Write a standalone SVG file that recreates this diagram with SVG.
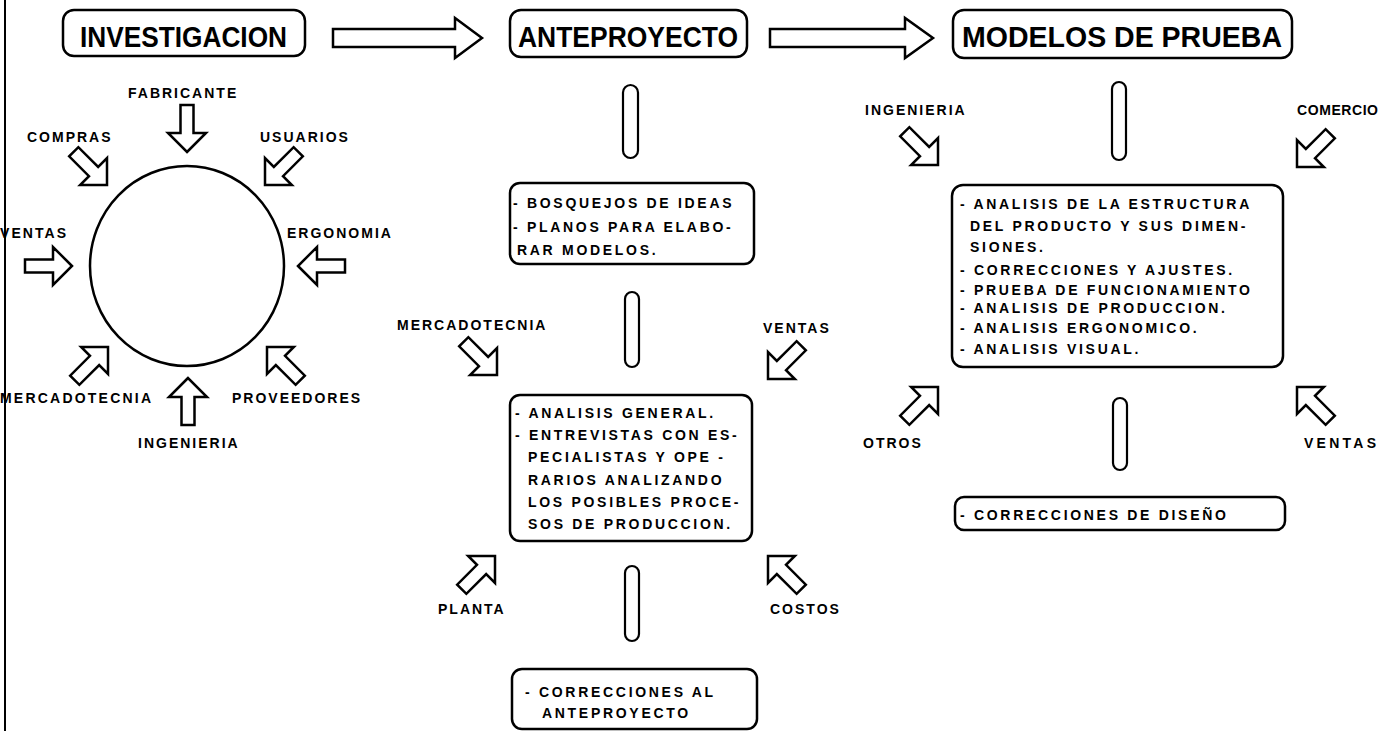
<svg xmlns="http://www.w3.org/2000/svg" xmlns:xlink="http://www.w3.org/1999/xlink" width="1384" height="731" viewBox="0 0 1384 731">
<style>
.box{fill:#fff;stroke:#000;stroke-width:2.5}
.pill{fill:#fff;stroke:#000;stroke-width:2.2}
.big{fill:#fff;stroke:#000;stroke-width:2.5;stroke-linejoin:miter}
.hd{font-family:"Liberation Sans",Arial,sans-serif;font-weight:bold;font-size:29px;fill:#000}
.lb{font-family:"Liberation Sans",Arial,sans-serif;font-weight:bold;font-size:14px;letter-spacing:2px;fill:#000}
.tx{font-family:"Liberation Sans",Arial,sans-serif;font-weight:bold;font-size:14px;letter-spacing:2.7px;fill:#000}
</style>
<defs>
<path id="ha" d="M0,0 L-19,-19 L-19,-6.5 L-47,-6.5 L-47,6.5 L-19,6.5 L-19,19 Z" fill="#fff" stroke="#000" stroke-width="2.5" stroke-linejoin="miter"/>
</defs>
<rect width="1384" height="731" fill="#fff"/>
<line x1="5" y1="0" x2="5" y2="731" stroke="#000" stroke-width="2"/>

<g id="investigacion">
<rect class="box" x="63" y="10" width="242" height="46" rx="11"/>
<text class="hd" x="80" y="47" textLength="207" lengthAdjust="spacingAndGlyphs">INVESTIGACION</text>
</g>
<g id="anteproyecto">
<rect class="box" x="510" y="10" width="237" height="47" rx="11"/>
<text class="hd" x="518" y="47" textLength="220" lengthAdjust="spacingAndGlyphs">ANTEPROYECTO</text>
</g>
<g id="modelos">
<rect class="box" x="953" y="10" width="339" height="48" rx="11"/>
<text class="hd" x="962" y="47" textLength="320" lengthAdjust="spacingAndGlyphs">MODELOS DE PRUEBA</text>
</g>

<g id="circulo">
<ellipse cx="187" cy="266" rx="97" ry="100" fill="none" stroke="#000" stroke-width="2.5"/>
</g>
<g id="labels-investigacion">
<text class="lb" x="128" y="98">FABRICANTE</text>
<text class="lb" x="27" y="142">COMPRAS</text>
<text class="lb" x="260" y="142">USUARIOS</text>
<text class="lb" x="0" y="238" textLength="68" lengthAdjust="spacing">VENTAS</text>
<text class="lb" x="287" y="238">ERGONOMIA</text>
<text class="lb" x="0" y="403" textLength="153" lengthAdjust="spacing">MERCADOTECNIA</text>
<text class="lb" x="232" y="403">PROVEEDORES</text>
<text class="lb" x="138" y="448">INGENIERIA</text>
</g>

<g id="bosquejos">
<rect class="box" x="510" y="183" width="244" height="81" rx="10"/>
<text class="tx" x="513" y="208">- BOSQUEJOS DE IDEAS</text>
<text class="tx" x="513" y="232">- PLANOS PARA ELABO-</text>
<text class="tx" x="517" y="255">RAR MODELOS.</text>
</g>
<g id="analisis-general">
<rect class="box" x="510" y="395" width="242" height="146" rx="10"/>
<text class="tx" x="515" y="418">- ANALISIS GENERAL.</text>
<text class="tx" x="515" y="440">- ENTREVISTAS CON ES-</text>
<text class="tx" x="528" y="462">PECIALISTAS Y OPE -</text>
<text class="tx" x="528" y="485">RARIOS ANALIZANDO</text>
<text class="tx" x="528" y="507">LOS POSIBLES PROCE-</text>
<text class="tx" x="528" y="529">SOS DE PRODUCCION.</text>
</g>
<g id="correcciones-anteproyecto">
<rect class="box" x="512" y="669" width="245" height="60" rx="10"/>
<text class="tx" x="525" y="697">- CORRECCIONES AL</text>
<text class="tx" x="542" y="718">ANTEPROYECTO</text>
</g>
<g id="labels-anteproyecto">
<text class="lb" x="397" y="330">MERCADOTECNIA</text>
<text class="lb" x="763" y="333">VENTAS</text>
<text class="lb" x="438" y="614">PLANTA</text>
<text class="lb" x="770" y="614">COSTOS</text>
</g>

<g id="analisis-estructura">
<rect class="box" x="952" y="185" width="331" height="182" rx="11"/>
<text class="tx" x="960" y="209">- ANALISIS DE LA ESTRUCTURA</text>
<text class="tx" x="970" y="231">DEL PRODUCTO Y SUS DIMEN-</text>
<text class="tx" x="970" y="252">SIONES.</text>
<text class="tx" x="960" y="275">- CORRECCIONES Y AJUSTES.</text>
<text class="tx" x="960" y="295">- PRUEBA DE FUNCIONAMIENTO</text>
<text class="tx" x="960" y="313">- ANALISIS DE PRODUCCION.</text>
<text class="tx" x="960" y="333">- ANALISIS ERGONOMICO.</text>
<text class="tx" x="960" y="354">- ANALISIS VISUAL.</text>
</g>
<g id="correcciones-diseno">
<rect class="box" x="955" y="497" width="330" height="33" rx="9"/>
<text class="tx" x="960" y="520">- CORRECCIONES DE DISEÑO</text>
</g>
<g id="labels-modelos">
<text class="lb" x="865" y="115">INGENIERIA</text>
<text class="lb" x="1297" y="115" textLength="83" lengthAdjust="spacing">COMERCIO</text>
<text class="lb" x="863" y="448">OTROS</text>
<text class="lb" x="1304" y="448" textLength="74" lengthAdjust="spacing">VENTAS</text>
</g>

<g id="connectors">
<path class="big" d="M333,29 H455 V18 L482,38 L455,58 V47 H333 Z"/>
<path class="big" d="M770,29 H905 V18 L933,38 L905,58 V47 H770 Z"/>
<rect class="pill" x="623" y="85" width="15" height="73" rx="7.5"/>
<rect class="pill" x="625" y="292" width="14" height="75" rx="7"/>
<rect class="pill" x="625" y="566" width="14" height="75" rx="7"/>
<rect class="pill" x="1112" y="82" width="14" height="78" rx="7"/>
<rect class="pill" x="1113" y="398" width="14" height="72" rx="7"/>
<use xlink:href="#ha" transform="translate(187,152) rotate(90)"/>
<use xlink:href="#ha" transform="translate(107,185) rotate(45)"/>
<use xlink:href="#ha" transform="translate(265,185) rotate(135)"/>
<use xlink:href="#ha" transform="translate(72,266) rotate(0)"/>
<use xlink:href="#ha" transform="translate(298,266) rotate(180)"/>
<use xlink:href="#ha" transform="translate(108,347) rotate(-45)"/>
<use xlink:href="#ha" transform="translate(188,378) rotate(-90)"/>
<use xlink:href="#ha" transform="translate(267,347) rotate(-135)"/>
<use xlink:href="#ha" transform="translate(497,375) rotate(45)"/>
<use xlink:href="#ha" transform="translate(768,379) rotate(135)"/>
<use xlink:href="#ha" transform="translate(495,556) rotate(-45)"/>
<use xlink:href="#ha" transform="translate(768,556) rotate(-135)"/>
<use xlink:href="#ha" transform="translate(938,165) rotate(45)"/>
<use xlink:href="#ha" transform="translate(1297,167) rotate(135)"/>
<use xlink:href="#ha" transform="translate(938,387) rotate(-45)"/>
<use xlink:href="#ha" transform="translate(1297,387) rotate(-135)"/>
</g>
</svg>
